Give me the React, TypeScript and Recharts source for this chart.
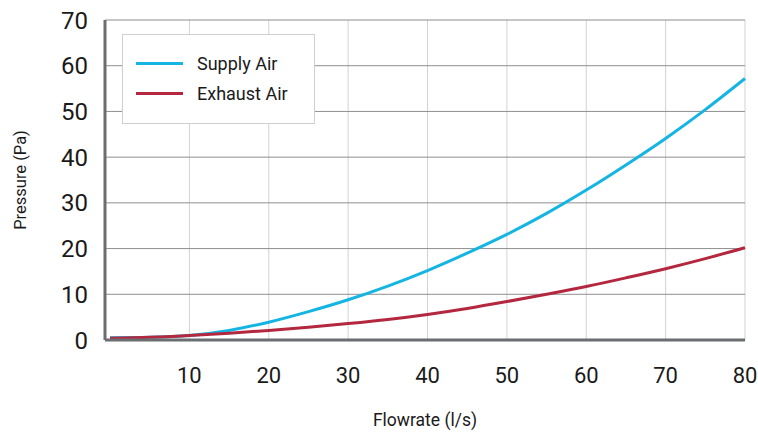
import React from 'react';
import { LineChart, Line, XAxis, YAxis, CartesianGrid, Legend } from 'recharts';

const flowrate = [0, 5, 10, 15, 20, 25, 30, 35, 40, 45, 50, 55, 60, 65, 70, 75, 80];
const supplyAir = [0.5, 0.6, 1.0, 2.1, 3.9, 6.2, 8.8, 11.8, 15.2, 19.0, 23.1, 27.7, 32.8, 38.3, 44.1, 50.4, 57.2];
const exhaustAir = [0.4, 0.6, 1.0, 1.5, 2.1, 2.8, 3.6, 4.5, 5.6, 6.9, 8.4, 10.0, 11.7, 13.6, 15.6, 17.8, 20.2];
const xTicks = [10, 20, 30, 40, 50, 60, 70, 80];
const yTicks = [0, 10, 20, 30, 40, 50, 60, 70];
const seriesOrder = ['Supply Air', 'Exhaust Air'];

const SUPPLY_COLOR = '#14b5e3';
const EXHAUST_COLOR = '#b3283f';

const data = flowrate.map((f, i) => ({ flow: f, supply: supplyAir[i], exhaust: exhaustAir[i] }));

const FONT = 'Roboto, "DejaVu Sans", sans-serif';

const LegendBox = (props: any) => {
  const payload = [...(props.payload || [])].sort(
    (a: any, b: any) => seriesOrder.indexOf(a.value) - seriesOrder.indexOf(b.value)
  );
  return (
    <div
      style={{
        width: 191,
        height: 88,
        border: '1px solid #cfcfcf',
        background: '#fff',
        position: 'relative',
        fontFamily: FONT,
        fontSize: 18,
        color: '#1a1a1a',
      }}
    >
      {payload.map((p: any, i: number) => (
        <div key={i} style={{ position: 'absolute', left: 13, top: 16 + i * 30, height: 24, display: 'flex', alignItems: 'center' }}>
          <div style={{ width: 47, height: 3, background: p.color }} />
          <span style={{ marginLeft: 14, whiteSpace: 'nowrap' }}>{p.value}</span>
        </div>
      ))}
    </div>
  );
};

export default function App() {
  return (
    <div style={{ position: 'absolute', left: 0, top: 0 }}>
      <LineChart width={758} height={433} data={data} margin={{ top: 20, right: 13, left: 0, bottom: 0 }}>
        <CartesianGrid horizontal={false} stroke="#d2d2d2" strokeWidth={1} />
        <CartesianGrid vertical={false} stroke="#8e8e8e" strokeWidth={1} />
        <XAxis
          dataKey="flow"
          type="number"
          domain={[0, 80]}
          ticks={xTicks}
          padding={{ left: 5, right: 0 }}
          height={93}
          tickSize={0}
          tickMargin={27}
          axisLine={{ stroke: '#6b6d70', strokeWidth: 3 }}
          tick={{ fontSize: 22, fill: '#1a1a1a', fontFamily: FONT }}
          label={{ value: 'Flowrate (l/s)', position: 'center', dy: 33, fontSize: 17.5, fill: '#1a1a1a', fontFamily: FONT }}
        />
        <YAxis
          type="number"
          domain={[0, 70]}
          ticks={yTicks}
          width={105}
          tickSize={0}
          tickMargin={17}
          axisLine={{ stroke: '#6b6d70', strokeWidth: 3 }}
          tick={{ fontSize: 24, fill: '#1a1a1a', fontFamily: FONT }}
          label={{ value: 'Pressure (Pa)', position: 'center', angle: -90, dx: -32, fontSize: 16.5, fill: '#1a1a1a', fontFamily: FONT }}
        />
        <Legend
          layout="vertical"
          align="center"
          verticalAlign="middle"
          content={<LegendBox />}
          wrapperStyle={{ position: 'absolute', left: 122, top: 34, width: 193, height: 90 }}
        />
        <Line type="monotone" dataKey="supply" name="Supply Air" stroke={SUPPLY_COLOR} strokeWidth={3} dot={false} isAnimationActive={false} />
        <Line type="monotone" dataKey="exhaust" name="Exhaust Air" stroke={EXHAUST_COLOR} strokeWidth={3} dot={false} isAnimationActive={false} />
      </LineChart>
    </div>
  );
}
